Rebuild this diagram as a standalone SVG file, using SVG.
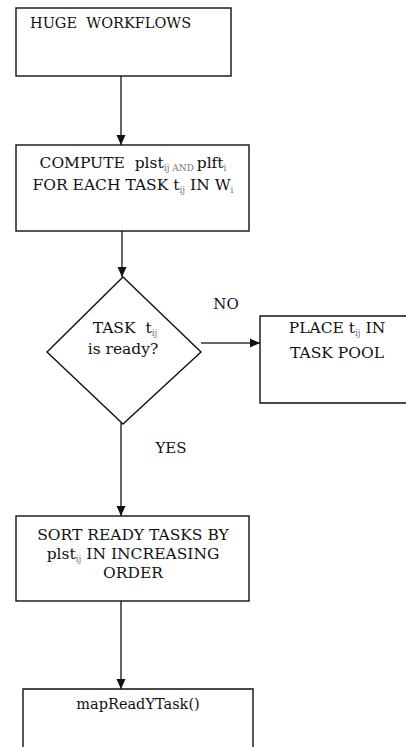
<svg xmlns="http://www.w3.org/2000/svg" width="406" height="747" viewBox="0 0 406 747" xml:space="preserve">
<defs>
<marker id="ah" markerUnits="userSpaceOnUse" markerWidth="10" markerHeight="10" viewBox="0 0 10 10" refX="10" refY="5" orient="auto">
<path d="M0,0.5 L10,5 L0,9.5 Z" fill="#111"/>
</marker>
<style>
.box{fill:#fff;stroke:#111;stroke-width:1.4}
.t{font-family:"DejaVu Serif","Liberation Serif",serif;font-size:15.5px;fill:#111;white-space:pre}
.m{text-anchor:middle}
.s{font-size:9px;fill:#777}
.c{fill:none;stroke:#333;stroke-width:1.5}
</style>
</defs>
<rect width="406" height="747" fill="#fff"/>
<g id="connectors">
<line class="c" x1="121" y1="76" x2="121" y2="145" marker-end="url(#ah)"/>
<line class="c" x1="122" y1="231" x2="122" y2="277" marker-end="url(#ah)"/>
<line class="c" x1="201" y1="343" x2="260" y2="343" marker-end="url(#ah)"/>
<line class="c" x1="121" y1="423" x2="121" y2="516" marker-end="url(#ah)"/>
<line class="c" x1="121" y1="601" x2="121" y2="689" marker-end="url(#ah)"/>
<text class="t" x="226" y="309" text-anchor="middle" style="font-size:15px">NO</text>
<text class="t" x="171" y="453" text-anchor="middle" style="font-size:15px">YES</text>
</g>
<g id="huge">
<rect class="box" x="16" y="8" width="215" height="68"/>
<text class="t" x="30" y="28" style="font-size:14.5px">HUGE  WORKFLOWS</text>
</g>
<g id="compute">
<rect class="box" x="16" y="145" width="233" height="86"/>
<text class="t m" x="133" y="168">COMPUTE  plst<tspan class="s" dy="3">ij AND </tspan><tspan dy="-3">plft</tspan><tspan class="s" dy="3">i</tspan></text>
<text class="t m" x="133" y="190">FOR EACH TASK t<tspan class="s" dy="3">ij</tspan><tspan dy="-3"> IN W</tspan><tspan class="s" dy="3">i</tspan></text>
</g>
<g id="decision">
<polygon class="box" points="123,277 201,352 123,424 47,352"/>
<text class="t m" x="125" y="333">TASK  t<tspan class="s" dy="3">ij</tspan></text>
<text class="t m" x="123" y="354">is ready?</text>
</g>
<g id="pool">
<path class="box" d="M408,316 H260 V403 H408"/>
<text class="t m" x="337" y="333">PLACE t<tspan class="s" dy="3">ij</tspan><tspan dy="-3"> IN</tspan></text>
<text class="t m" x="337" y="358">TASK POOL</text>
</g>
<g id="sort">
<rect class="box" x="16" y="516" width="233" height="85"/>
<text class="t m" x="133" y="540">SORT READY TASKS BY</text>
<text class="t m" x="133" y="559">plst<tspan class="s" dy="3">ij</tspan><tspan dy="-3"> IN INCREASING</tspan></text>
<text class="t m" x="133" y="578">ORDER</text>
</g>
<g id="map">
<path class="box" d="M23,750 V689 H253 V750"/>
<text class="t m" x="138" y="709" style="font-size:14.5px">mapReadYTask()</text>
</g>
</svg>
